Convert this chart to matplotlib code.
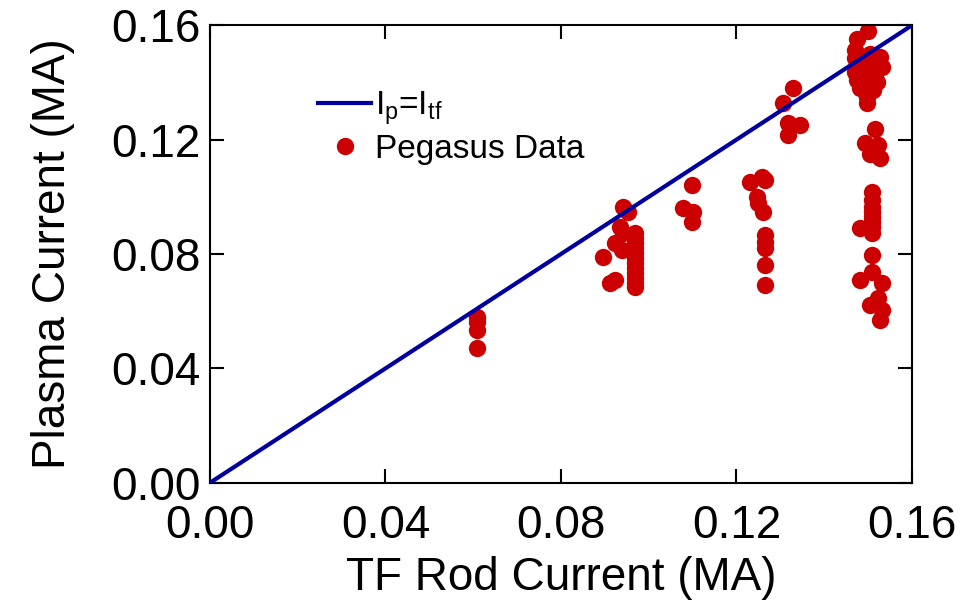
import numpy as np
from matplotlib import pyplot as plt

# 字体：Arial 风格
plt.rcParams['font.family'] = ['Liberation Sans', 'DejaVu Sans']
plt.rcParams['mathtext.fontset'] = 'custom'
plt.rcParams['mathtext.rm'] = 'Liberation Sans'

# 理想线 Ip = Itf
line_x = [0.0, 0.16]
line_y = [0.0, 0.16]

# Pegasus 数据 (TF rod current, plasma current), 单位 MA
tf_current = [
    0.0609, 0.0609, 0.0609, 0.0609,
    0.0941, 0.0953, 0.0934, 0.0941, 0.0923, 0.0939, 0.0896, 0.0912, 0.0923,
    0.0969, 0.0969, 0.0969, 0.0969, 0.0969, 0.0969, 0.0969, 0.0969, 0.0969,
    0.0969, 0.0969, 0.0969,
    0.1099, 0.1078, 0.1101, 0.1099,
    0.1231, 0.1258, 0.1265, 0.1247, 0.1249, 0.1260, 0.1265, 0.1265, 0.1265,
    0.1265, 0.1265,
    0.1329, 0.1306, 0.1317, 0.1345, 0.1317,
    0.1500, 0.1475, 0.1470, 0.1470, 0.1527, 0.1532, 0.1470, 0.1475, 0.1520,
    0.1481, 0.1511, 0.1497, 0.1497, 0.1500, 0.1505, 0.1510, 0.1495, 0.1515,
    0.1490, 0.1505, 0.1500,
    0.1516, 0.1493, 0.1522, 0.1504, 0.1527,
    0.1509, 0.1509, 0.1509, 0.1509, 0.1509, 0.1509, 0.1509, 0.1509, 0.1482,
    0.1509, 0.1509, 0.1482, 0.1532, 0.1522, 0.1504, 0.1532, 0.1527,
]
plasma_current = [
    0.0579, 0.0562, 0.0534, 0.0471,
    0.0964, 0.0946, 0.0894, 0.0873, 0.0838, 0.0813, 0.0789, 0.0698, 0.0708,
    0.0873, 0.0855, 0.0838, 0.0820, 0.0803, 0.0785, 0.0768, 0.0750, 0.0733,
    0.0715, 0.0698, 0.0684,
    0.1040, 0.0960, 0.0946, 0.0911,
    0.1051, 0.1068, 0.1058, 0.0999, 0.0978, 0.0946, 0.0866, 0.0841, 0.0820,
    0.0761, 0.0691,
    0.1380, 0.1327, 0.1260, 0.1250, 0.1215,
    0.1581, 0.1553, 0.1512, 0.1485, 0.1488, 0.1453, 0.1436, 0.1408, 0.1400,
    0.1380, 0.1372, 0.1348, 0.1327, 0.1470, 0.1440, 0.1420, 0.1460, 0.1430,
    0.1395, 0.1500, 0.1360,
    0.1239, 0.1187, 0.1180, 0.1151, 0.1137,
    0.1016, 0.0988, 0.0964, 0.0946, 0.0929, 0.0911, 0.0894, 0.0873, 0.0890,
    0.0796, 0.0737, 0.0708, 0.0700, 0.0648, 0.0621, 0.0604, 0.0570,
]

fig = plt.figure(figsize=(9.63, 6.02), dpi=100)
ax = fig.add_axes([0.218, 0.198, 0.729, 0.760])

ax.plot(line_x, line_y, color='#0000a0', lw=3,
        label=r'$\mathregular{I_p}$=$\mathregular{I_{tf}}$', zorder=3)
ax.plot(tf_current, plasma_current, 'o', color='#cc0000', ms=12.5, mec='none',
        label='Pegasus Data', zorder=2)

ax.set_xlim(0, 0.16)
ax.set_ylim(0, 0.16)
ticks = [0.00, 0.04, 0.08, 0.12, 0.16]
ax.set_xticks(ticks)
ax.set_yticks(ticks)
ax.set_xticklabels(['%.2f' % t for t in ticks])
ax.set_yticklabels(['%.2f' % t for t in ticks])
ax.tick_params(direction='in', length=10, width=1.5, top=True, right=True,
               labelsize=33)
ax.tick_params(axis='x', pad=15)
ax.tick_params(axis='y', pad=7)
for s in ax.spines.values():
    s.set_linewidth(1.5)

ax.set_xlabel('TF Rod Current (MA)', fontsize=33, labelpad=6)
ax.set_ylabel('Plasma Current (MA)', fontsize=33, labelpad=26)

ax.legend(loc='upper left', bbox_to_anchor=(0.135, 0.889), frameon=False,
          fontsize=24, handlelength=1.6, handletextpad=0.1,
          labelspacing=0.2, borderaxespad=0)

fig.savefig('out.png', dpi=100)
